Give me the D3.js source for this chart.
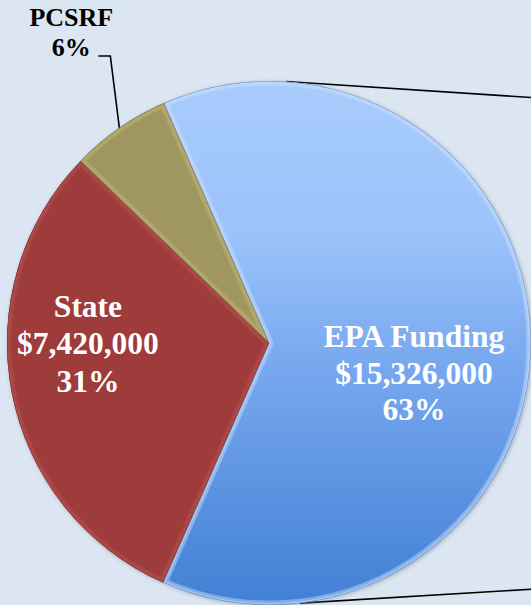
<!DOCTYPE html>
<html>
<head>
<meta charset="utf-8">
<script src="https://cdn.jsdelivr.net/npm/d3@7"></script>
<style>
  html, body { margin: 0; padding: 0; background: #dce6f2; }
  svg { display: block; }
  text { font-family: "Liberation Serif", "Times New Roman", serif; font-weight: bold; }
</style>
</head>
<body>
<svg></svg>
<script>
// slices, in drawing order (clockwise from the EPA start edge)
const categories = ['EPA Funding', 'State', 'PCSRF'];
const amounts = [15326000, 7420000, 1500000];
const percents = ['63%', '31%', '6%'];
const showAmount = [true, true, false];

const width = 531;
const height = 605;
const cx = 269;
const cy = 343;
const radius = 262;

const svg = d3.select('svg')
  .attr('width', width)
  .attr('height', height);

const defs = svg.append('defs');

// blue slice fades from light at the top to deeper blue at the bottom
// (user space of the slice group is centred on the pie)
const blueGrad = defs.append('linearGradient')
  .attr('id', 'blueGrad')
  .attr('gradientUnits', 'userSpaceOnUse')
  .attr('x1', 0).attr('y1', -radius)
  .attr('x2', 0).attr('y2', radius);
blueGrad.append('stop').attr('offset', '0%').attr('stop-color', '#a8ccfb');
blueGrad.append('stop').attr('offset', '30%').attr('stop-color', '#9bc2fa');
blueGrad.append('stop').attr('offset', '52%').attr('stop-color', '#7aaaf0');
blueGrad.append('stop').attr('offset', '100%').attr('stop-color', '#4280d4');

const fills = ['url(#blueGrad)', '#9e3b3a', '#a09660'];
const bevels = ['#c9e0ff', '#b65452', '#c0b67c'];
const edges = ['#5a78a6', '#6e2726', '#6f6838'];

const shadow = defs.append('filter').attr('id', 'shadow')
  .attr('x', '-10%').attr('y', '-10%').attr('width', '120%').attr('height', '120%');
shadow.append('feGaussianBlur').attr('in', 'SourceAlpha').attr('stdDeviation', 2);
shadow.append('feOffset').attr('dx', 1).attr('dy', 1).attr('result', 'b');
shadow.append('feFlood').attr('flood-color', '#7a8696').attr('flood-opacity', 0.6);
shadow.append('feComposite').attr('in2', 'b').attr('operator', 'in');
const merge = shadow.append('feMerge');
merge.append('feMergeNode');
merge.append('feMergeNode').attr('in', 'SourceGraphic');

const startDeg = -23.7;
const pie = d3.pie()
  .sort(null)
  .value(d => d.amount)
  .startAngle(startDeg * Math.PI / 180)
  .endAngle((startDeg + 360) * Math.PI / 180);

const rows = categories.map((c, i) => ({
  name: c, amount: amounts[i], pct: percents[i], showAmount: showAmount[i], i: i,
}));
const arcs = pie(rows);

const arc = d3.arc().innerRadius(0).outerRadius(radius);

const g = svg.append('g').attr('transform', `translate(${cx},${cy})`);

// pie-of-pie connector lines running off to the right
const connectorDeg = [3.7, 173.2];
const connectorEnd = [[300, -243], [300, 244]];
connectorDeg.forEach((deg, k) => {
  const p = d3.pointRadial(deg * Math.PI / 180, radius);
  g.append('line')
    .attr('x1', p[0]).attr('y1', p[1])
    .attr('x2', connectorEnd[k][0]).attr('y2', connectorEnd[k][1])
    .attr('stroke', '#000').attr('stroke-width', 1.6);
});

const slices = g.append('g').attr('filter', 'url(#shadow)');

arcs.forEach((d, k) => {
  defs.append('clipPath').attr('id', 'clip' + k)
    .append('path').attr('d', arc(d)).attr('transform', `translate(${cx},${cy})`);
});

slices.selectAll('path.slice')
  .data(arcs)
  .enter()
  .append('path')
  .attr('class', 'slice')
  .attr('d', arc)
  .attr('fill', d => fills[d.data.i]);

// inner bevel: wide light stroke clipped to the slice, then a thin dark rim
const bevelG = svg.append('g');
arcs.forEach((d, k) => {
  const bg = bevelG.append('g').attr('clip-path', `url(#clip${k})`)
    .append('g').attr('transform', `translate(${cx},${cy})`);
  bg.append('path')
    .attr('d', arc(d))
    .attr('fill', 'none')
    .attr('stroke', bevels[k])
    .attr('stroke-width', 9)
    .attr('stroke-opacity', 0.45)
    .attr('stroke-linejoin', 'round');
  bg.append('path')
    .attr('d', arc(d))
    .attr('fill', 'none')
    .attr('stroke', bevels[k])
    .attr('stroke-width', 4)
    .attr('stroke-opacity', 0.5)
    .attr('stroke-linejoin', 'round');
  bg.append('path')
    .attr('d', arc(d))
    .attr('fill', 'none')
    .attr('stroke', edges[k])
    .attr('stroke-width', 1.2)
    .attr('stroke-opacity', 0.75);
});

// label placement (fraction of radius for the anchor, dy of first baseline)
const labelLayout = [
  { r: 0.553, dy: 4, lh: 36.5, size: 31.5, color: '#fff' },
  { r: 0.704, dy: -61.6, lh: 37.5, size: 31.5, color: '#fff' },
];

arcs.slice(0, 2).forEach((d, k) => {
  const L = labelLayout[k];
  const c = d3.arc().innerRadius(radius * L.r).outerRadius(radius * L.r).centroid(d);
  const lines = [d.data.name];
  if (d.data.showAmount) lines.push(d3.format('$,')(d.data.amount));
  lines.push(d.data.pct);
  const t = g.append('text')
    .attr('text-anchor', 'middle')
    .attr('fill', L.color)
    .style('font-size', L.size + 'px');
  lines.forEach((s, j) => {
    t.append('tspan')
      .attr('x', c[0])
      .attr('y', c[1] + L.dy + j * L.lh)
      .text(s);
  });
});

// outside label for the small slice, with its leader line
const small = arcs[2];
const edgePt = d3.arc().innerRadius(radius).outerRadius(radius).centroid(small);
const elbow = [edgePt[0] - 9, edgePt[1] - 72];
const tail = [elbow[0] - 12, elbow[1]];
g.append('path')
  .attr('d', d3.line()([edgePt, elbow, tail]))
  .attr('fill', 'none')
  .attr('stroke', '#000')
  .attr('stroke-width', 1.6);

const outer = g.append('text')
  .attr('text-anchor', 'middle')
  .attr('fill', '#000')
  .style('font-size', '26px');
[small.data.name, small.data.pct].forEach((s, j) => {
  outer.append('tspan')
    .attr('x', tail[0] - 27)
    .attr('y', tail[1] - 30 + j * 30)
    .text(s);
});
</script>
</body>
</html>
